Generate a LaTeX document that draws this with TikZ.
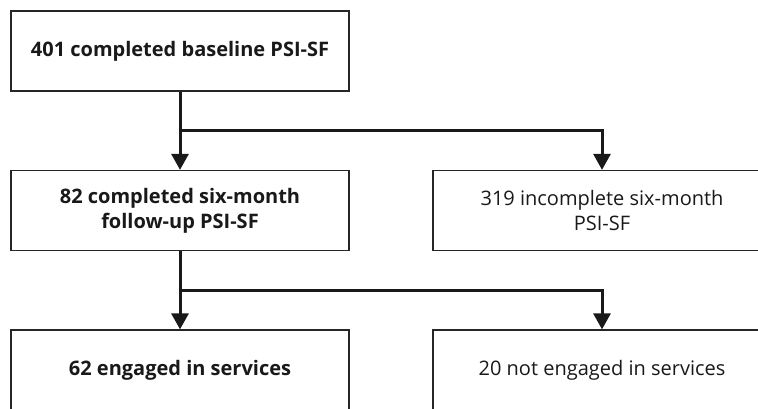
\documentclass[tikz,border=0pt]{standalone}
\usepackage{fontspec}
\setmainfont{Open Sans}
\usetikzlibrary{arrows.meta}
\begin{document}
\begin{tikzpicture}[x=1pt,y=-1pt,
  box/.style={draw=black!85,line width=1.3pt,minimum width=338pt,minimum height=80pt,inner sep=0pt,align=center,text=black!90,font=\fontsize{20}{25}\selectfont},
  boldbox/.style={box,font=\fontsize{20}{25}\selectfont\bfseries},
  conn/.style={line width=3pt,draw=black!90,-{Triangle[length=16pt,width=17pt]}}]
\clip (0,0) rectangle (758,408);
\fill[white] (0,0) rectangle (758,408);
\node[boldbox] (top) at (180,51) {401 completed baseline PSI-SF};
\node[boldbox] (midL) at (180,210.5) {82 completed six-month\\follow-up PSI-SF};
\node[box] (midR) at (602,210.5) {319 incomplete six-month\\PSI-SF};
\node[boldbox] (botL) at (180,370) {62 engaged in services};
\node[box] (botR) at (602,370) {20 not engaged in services};
\coordinate (j1) at (180,130);
\coordinate (j2) at (180,290.5);
\draw[conn] (top.south) -- (midL.north);
\draw[conn,line cap=rect] (top.south |- j1) -| (midR.north);
\draw[conn] (midL.south) -- (botL.north);
\draw[conn,line cap=rect] (midL.south |- j2) -| (botR.north);
\end{tikzpicture}
\end{document}
